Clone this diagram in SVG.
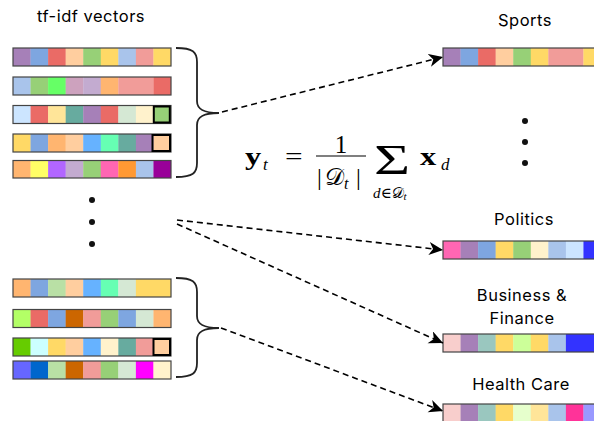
<svg xmlns="http://www.w3.org/2000/svg" width="594" height="421" viewBox="0 0 594 421">
<style>
.lbl{font-family:Inter,"Open Sans","Noto Sans",sans-serif;font-size:16.5px;letter-spacing:0.5px;fill:#000;text-anchor:middle}
.vb{fill:none;stroke:#444;stroke-width:1.2}
.hl{fill:none;stroke:#000;stroke-width:2}
.brace{fill:none;stroke:#222;stroke-width:1.8}
.conn{fill:none;stroke:#000;stroke-width:1.6;stroke-dasharray:6 4}
.dot{fill:#111}
.m{font-family:"Liberation Serif","DejaVu Serif",serif;fill:#000}
.mb{font-weight:bold}
.mi{font-style:italic}
</style>
<defs>
<marker id="arr" markerUnits="userSpaceOnUse" markerWidth="15" markerHeight="14" refX="14" refY="6.5" orient="auto">
<path d="M0,0 L14,6.5 L0,13 L4,6.5 Z" fill="#000"/>
</marker>
</defs>

<text class="lbl" x="91" y="22">tf-idf vectors</text>

<g id="vec1" transform="translate(13,48)">
<rect x="0" width="17.8" height="18" fill="#A680B8"/><rect x="17.56" width="17.8" height="18" fill="#7EA6E0"/><rect x="35.11" width="17.8" height="18" fill="#EA6B66"/><rect x="52.67" width="17.8" height="18" fill="#FFCE9F"/><rect x="70.22" width="17.8" height="18" fill="#97D077"/><rect x="87.78" width="17.8" height="18" fill="#FFD966"/><rect x="105.33" width="17.8" height="18" fill="#A9C4EB"/><rect x="122.89" width="17.8" height="18" fill="#F19C99"/><rect x="140.44" width="17.56" height="18" fill="#FFD966"/>
<rect class="vb" width="158" height="18"/>
</g>
<g id="vec2" transform="translate(13,77)">
<rect x="0" width="17.8" height="18" fill="#A9C4EB"/><rect x="17.56" width="17.8" height="18" fill="#97D077"/><rect x="35.11" width="17.8" height="18" fill="#66FF66"/><rect x="52.67" width="17.8" height="18" fill="#CDA2BE"/><rect x="70.22" width="17.8" height="18" fill="#C3ABD0"/><rect x="87.78" width="17.8" height="18" fill="#FFB570"/><rect x="105.33" width="35.3" height="18" fill="#F19C99"/><rect x="140.44" width="17.56" height="18" fill="#EA6B66"/>
<rect class="vb" width="158" height="18"/>
</g>
<g id="vec3" transform="translate(13,105.5)">
<rect x="0" width="17.8" height="18" fill="#CCE5FF"/><rect x="17.56" width="17.8" height="18" fill="#EA6B66"/><rect x="35.11" width="17.8" height="18" fill="#FFE599"/><rect x="52.67" width="17.8" height="18" fill="#67AB9F"/><rect x="70.22" width="17.8" height="18" fill="#A680B8"/><rect x="87.78" width="17.8" height="18" fill="#EA6B66"/><rect x="105.33" width="17.8" height="18" fill="#D5E8D4"/><rect x="122.89" width="17.8" height="18" fill="#FFF2CC"/><rect x="140.44" width="17.56" height="18" fill="#97D077"/>
<rect class="vb" width="158" height="18"/>
<rect class="hl" x="140.8" y="1" width="16" height="16"/>
</g>
<g id="vec4" transform="translate(13,134)">
<rect x="0" width="17.8" height="18" fill="#FFD966"/><rect x="17.56" width="17.8" height="18" fill="#7EA6E0"/><rect x="35.11" width="17.8" height="18" fill="#FFB570"/><rect x="52.67" width="17.8" height="18" fill="#FFCE9F"/><rect x="70.22" width="17.8" height="18" fill="#66B2FF"/><rect x="87.78" width="17.8" height="18" fill="#66FFB3"/><rect x="105.33" width="17.8" height="18" fill="#67AB9F"/><rect x="122.89" width="17.8" height="18" fill="#A680B8"/><rect x="140.44" width="17.56" height="18" fill="#FFCE9F"/>
<rect class="vb" width="158" height="18"/>
<rect class="hl" x="139.5" y="1" width="17.5" height="16"/>
</g>
<g id="vec5" transform="translate(13,160.5)">
<rect x="0" width="17.8" height="17.5" fill="#FFB570"/><rect x="17.56" width="17.8" height="17.5" fill="#FFFF66"/><rect x="35.11" width="17.8" height="17.5" fill="#B266FF"/><rect x="52.67" width="17.8" height="17.5" fill="#C3ABD0"/><rect x="70.22" width="17.8" height="17.5" fill="#97D077"/><rect x="87.78" width="17.8" height="17.5" fill="#FF66B3"/><rect x="105.33" width="17.8" height="17.5" fill="#FF9933"/><rect x="122.89" width="17.8" height="17.5" fill="#A9C4EB"/><rect x="140.44" width="17.56" height="17.5" fill="#990099"/>
<rect class="vb" width="158" height="17.5"/>
</g>

<g id="vec6" transform="translate(13,279)">
<rect x="0" width="17.8" height="18" fill="#FFB570"/><rect x="17.56" width="17.8" height="18" fill="#7EA6E0"/><rect x="35.11" width="17.8" height="18" fill="#B9E0A5"/><rect x="52.67" width="17.8" height="18" fill="#FFCE9F"/><rect x="70.22" width="17.8" height="18" fill="#66B2FF"/><rect x="87.78" width="17.8" height="18" fill="#66FFB3"/><rect x="105.33" width="17.8" height="18" fill="#D5E8D4"/><rect x="122.89" width="35.11" height="18" fill="#FFD966"/>
<rect class="vb" width="158" height="18"/>
</g>
<g id="vec7" transform="translate(13,309.5)">
<rect x="0" width="17.8" height="18" fill="#B3FF66"/><rect x="17.56" width="17.8" height="18" fill="#EA6B66"/><rect x="35.11" width="17.8" height="18" fill="#7EA6E0"/><rect x="52.67" width="17.8" height="18" fill="#CC6600"/><rect x="70.22" width="17.8" height="18" fill="#F19C99"/><rect x="87.78" width="17.8" height="18" fill="#97D077"/><rect x="105.33" width="17.8" height="18" fill="#7EA6E0"/><rect x="122.89" width="17.8" height="18" fill="#D5E8D4"/><rect x="140.44" width="17.56" height="18" fill="#FFB570"/>
<rect class="vb" width="158" height="18"/>
</g>
<g id="vec8" transform="translate(13,338)">
<rect x="0" width="17.8" height="18" fill="#66CC00"/><rect x="17.56" width="17.8" height="18" fill="#CCFFFF"/><rect x="35.11" width="17.8" height="18" fill="#FFD966"/><rect x="52.67" width="17.8" height="18" fill="#FFCE9F"/><rect x="70.22" width="17.8" height="18" fill="#66B2FF"/><rect x="87.78" width="17.8" height="18" fill="#FFF2CC"/><rect x="105.33" width="17.8" height="18" fill="#67AB9F"/><rect x="122.89" width="17.8" height="18" fill="#F19C99"/><rect x="140.44" width="17.56" height="18" fill="#FFCE9F"/>
<rect class="vb" width="158" height="18"/>
<rect class="hl" x="140.5" y="1" width="16.5" height="16"/>
</g>
<g id="vec9" transform="translate(13,361)">
<rect x="0" width="17.8" height="18" fill="#6666FF"/><rect x="17.56" width="17.8" height="18" fill="#0066CC"/><rect x="35.11" width="17.8" height="18" fill="#B9E0A5"/><rect x="52.67" width="17.8" height="18" fill="#CC6600"/><rect x="70.22" width="17.8" height="18" fill="#F19C99"/><rect x="87.78" width="17.8" height="18" fill="#97D077"/><rect x="105.33" width="17.8" height="18" fill="#D5E8D4"/><rect x="122.89" width="17.8" height="18" fill="#FF00FF"/><rect x="140.44" width="17.56" height="18" fill="#FFF2CC"/>
<rect class="vb" width="158" height="18"/>
</g>

<g id="brace-top"><path class="brace" d="M176,48 C193,48 197,52 197,62 L197,101 C197,109 203,113 219,113 C203,113 197,117 197,125 L197,163 C197,173 193,177 176,177"/></g>
<g id="brace-bottom"><path class="brace" d="M176,278 C193,278 197,282 197,292 L197,316 C197,324 203,328 219,328 C203,328 197,332 197,340 L197,363 C197,373 193,377 176,377"/></g>

<g id="dots-left"><circle class="dot" cx="92" cy="200" r="3"/><circle class="dot" cx="92" cy="222" r="3"/><circle class="dot" cx="92" cy="244" r="3"/></g>
<g id="dots-right"><circle class="dot" cx="525" cy="121" r="3"/><circle class="dot" cx="525" cy="142" r="3"/><circle class="dot" cx="525" cy="163" r="3"/></g>

<g id="formula">
<text class="m mb" transform="translate(245,165) scale(1.25,1)" font-size="26">y</text>
<text class="m mi" x="263" y="170" font-size="17">t</text>
<text class="m" transform="translate(285,165) scale(1.25,1)" font-size="25">=</text>
<text class="m" x="341" y="153" font-size="25" text-anchor="middle">1</text>
<line x1="316" y1="156" x2="366" y2="156" stroke="#000" stroke-width="1.2"/>
<text class="m" x="317" y="185" font-size="24">|</text>
<text class="m" x="325" y="185" font-size="24">𝒟</text>
<text class="m mi" x="344" y="189" font-size="16">t</text>
<text class="m" x="356" y="185" font-size="24">|</text>
<text class="m" transform="translate(374,174) scale(1.55,1.05)" font-size="40">Σ</text>
<text class="m" x="373" y="198" font-size="15"><tspan font-style="italic">d</tspan>∈𝒟<tspan font-style="italic" font-size="11" dy="2">t</tspan></text>
<text class="m mb" transform="translate(420,165) scale(1.3,1)" font-size="25">x</text>
<text class="m mi" x="441" y="170" font-size="17">d</text>
</g>

<g id="sports">
<text class="lbl" x="525" y="26">Sports</text>
<g transform="translate(443,48)">
<rect x="0" width="17.8" height="18" fill="#A680B8"/><rect x="17.56" width="17.8" height="18" fill="#7EA6E0"/><rect x="35.11" width="17.8" height="18" fill="#EA6B66"/><rect x="52.67" width="17.8" height="18" fill="#FFCE9F"/><rect x="70.22" width="17.8" height="18" fill="#97D077"/><rect x="87.78" width="17.8" height="18" fill="#FFD966"/><rect x="105.33" width="35.3" height="18" fill="#F19C99"/><rect x="140.44" width="17.56" height="18" fill="#FFD966"/>
<rect class="vb" width="158" height="18"/>
</g>
</g>
<g id="politics">
<text class="lbl" x="524" y="225">Politics</text>
<g transform="translate(443,241)">
<rect x="0" width="17.8" height="18" fill="#FF66B3"/><rect x="17.56" width="17.8" height="18" fill="#A680B8"/><rect x="35.11" width="17.8" height="18" fill="#7EA6E0"/><rect x="52.67" width="17.8" height="18" fill="#FFD966"/><rect x="70.22" width="17.8" height="18" fill="#97D077"/><rect x="87.78" width="17.8" height="18" fill="#FFF2CC"/><rect x="105.33" width="17.8" height="18" fill="#A9C4EB"/><rect x="122.89" width="17.8" height="18" fill="#CCE5FF"/><rect x="140.44" width="17.56" height="18" fill="#3333FF"/>
<rect class="vb" width="158" height="18"/>
</g>
</g>
<g id="business">
<text class="lbl" x="522" y="301">Business &amp;</text>
<text class="lbl" x="522" y="324">Finance</text>
<g transform="translate(443,334)">
<rect x="0" width="17.8" height="18" fill="#F8CECC"/><rect x="17.56" width="17.8" height="18" fill="#A680B8"/><rect x="35.11" width="17.8" height="18" fill="#9AC7BF"/><rect x="52.67" width="17.8" height="18" fill="#FFD966"/><rect x="70.22" width="17.8" height="18" fill="#CCFF99"/><rect x="87.78" width="17.8" height="18" fill="#FFD966"/><rect x="105.33" width="17.8" height="18" fill="#A9C4EB"/><rect x="122.89" width="35.11" height="18" fill="#3333FF"/>
<rect class="vb" width="158" height="18"/>
</g>
</g>
<g id="health">
<text class="lbl" x="521" y="390">Health Care</text>
<g transform="translate(443,404)">
<rect x="0" width="17.8" height="18" fill="#F8CECC"/><rect x="17.56" width="17.8" height="18" fill="#A680B8"/><rect x="35.11" width="17.8" height="18" fill="#9AC7BF"/><rect x="52.67" width="17.8" height="18" fill="#FFD966"/><rect x="70.22" width="17.8" height="18" fill="#E6FFCC"/><rect x="87.78" width="17.8" height="18" fill="#FFE599"/><rect x="105.33" width="17.8" height="18" fill="#A9C4EB"/><rect x="122.89" width="17.8" height="18" fill="#FF3399"/><rect x="140.44" width="17.56" height="18" fill="#9999FF"/>
<rect class="vb" width="158" height="18"/>
</g>
</g>

<g id="connectors">
<line class="conn" x1="222" y1="112" x2="443" y2="57" marker-end="url(#arr)"/>
<line class="conn" x1="177" y1="220" x2="443" y2="250" marker-end="url(#arr)"/>
<line class="conn" x1="177" y1="224" x2="443" y2="343" marker-end="url(#arr)"/>
<line class="conn" x1="221" y1="328" x2="443" y2="411" marker-end="url(#arr)"/>
</g>
</svg>
